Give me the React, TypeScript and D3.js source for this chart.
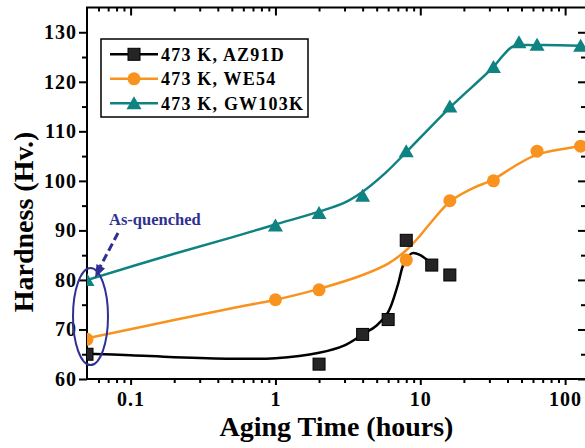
import React, { useEffect, useRef } from 'react'
import * as d3 from 'd3'

// measured hardness (Hv.) vs aging time (hours) at 473 K
const azTime = [0.05, 2, 4, 6, 8, 12, 16]
const azHard = [65, 63, 69, 72, 88, 83, 81]
const weTime = [0.05, 1, 2, 8, 16, 32, 64, 128]
const weHard = [68, 76, 78, 84, 96, 100, 106, 107]
const gwTime = [0.05, 1, 2, 4, 8, 16, 32, 48, 64, 128]
const gwHard = [80, 91, 93.5, 97, 106, 115, 123, 128, 127.5, 127.3]

// fitted curves
const azFitTime = [0.05, 0.1, 0.2, 0.5, 1, 2, 3, 4, 5, 6, 7, 7.7, 8.8, 10, 12]
const azFitHard = [65.1, 64.8, 64.4, 64.1, 64.2, 65.3, 66.8, 69, 70.8, 73.5, 79, 83.3, 85.4, 85, 83.2]
const weFitTime = [0.05, 0.2, 0.5, 1, 2, 4, 6, 8, 10, 12, 16, 22.6, 32, 45, 64, 128]
const weFitHard = [68.2, 71.9, 74.3, 76, 78.2, 81, 83.3, 86, 89, 91.8, 95.8, 98.4, 100.3, 103, 105.3, 107]
const gwFitTime = [0.05, 0.2, 0.5, 1, 2, 3, 4, 5.7, 8, 16, 32, 38, 44, 64, 128]
const gwFitHard = [80, 85.3, 88.6, 91.2, 93.8, 95.6, 97.8, 101.5, 105.8, 114.8, 123, 125.6, 127.2, 127.4, 127.3]

const seriesNames = ['473 K, AZ91D', '473 K, WE54', '473 K, GW103K']
const xMajor = [0.1, 1, 10, 100]
const xTickLabels = ['0.1', '1', '10', '100']
const yMajor = [60, 70, 80, 90, 100, 110, 120, 130]

const BLACK = '#000000'
const ORANGE = '#f7931e'
const TEAL = '#0f8282'
const NAVY = '#2e3192'
const FONT = '"Liberation Serif", "Times New Roman", serif'

const App = () => {
  const ref = useRef<SVGSVGElement>(null)

  useEffect(() => {
    const width = 585
    const height = 448
    const left = 87
    const right = 586
    const top = 7.5
    const bottom = 379

    const svg = d3.select(ref.current)
    svg.selectAll('*').remove()

    const x = d3.scaleLog().domain([0.05, 135]).range([left, right - 2])
    const y = d3.scaleLinear().domain([60, 135]).range([bottom, top])

    svg
      .append('defs')
      .append('clipPath')
      .attr('id', 'plot-clip')
      .append('rect')
      .attr('x', left)
      .attr('y', top)
      .attr('width', right - left)
      .attr('height', bottom - top)

    // minor ticks
    const xMinor: number[] = []
    ;[0.01, 0.1, 1, 10, 100].forEach((d) => {
      for (let k = 2; k <= 9; k++) {
        const v = d * k
        if (v > 0.05 && v < 135 && !xMajor.includes(v)) xMinor.push(v)
      }
    })
    const yMinor = d3.range(65, 135, 10)

    const styleAxis = (g) => {
      g.select('.domain').remove()
      g.selectAll('line').attr('stroke', '#000').attr('stroke-width', 2)
    }
    const styleLabels = (g) =>
      g
        .selectAll('text')
        .attr('font-family', FONT)
        .attr('font-size', 20)
        .attr('font-weight', 'bold')
        .attr('letter-spacing', 1)
        .attr('fill', '#000')

    // bottom axis
    svg
      .append('g')
      .attr('transform', `translate(0,${bottom})`)
      .call(d3.axisBottom(x).tickValues(xMinor).tickSize(4).tickFormat(() => ''))
      .call(styleAxis)
    svg
      .append('g')
      .attr('transform', `translate(0,${bottom})`)
      .call(
        d3
          .axisBottom(x)
          .tickValues(xMajor)
          .tickSize(6)
          .tickPadding(7)
          .tickFormat((d, i) => xTickLabels[i])
      )
      .call(styleAxis)
      .call(styleLabels)

    // top axis (inward)
    svg
      .append('g')
      .attr('transform', `translate(0,${top})`)
      .call(d3.axisBottom(x).tickValues(xMinor).tickSize(4).tickFormat(() => ''))
      .call(styleAxis)
    svg
      .append('g')
      .attr('transform', `translate(0,${top})`)
      .call(d3.axisBottom(x).tickValues(xMajor).tickSize(8).tickFormat(() => ''))
      .call(styleAxis)

    // left axis
    svg
      .append('g')
      .attr('transform', `translate(${left},0)`)
      .call(d3.axisLeft(y).tickValues(yMinor).tickSize(5).tickFormat(() => ''))
      .call(styleAxis)
    svg
      .append('g')
      .attr('transform', `translate(${left},0)`)
      .call(d3.axisLeft(y).tickValues(yMajor).tickSize(8).tickPadding(2))
      .call(styleAxis)
      .call(styleLabels)

    // right axis (inward)
    svg
      .append('g')
      .attr('transform', `translate(${right},0)`)
      .call(d3.axisLeft(y).tickValues(yMinor).tickSize(5).tickFormat(() => ''))
      .call(styleAxis)
    svg
      .append('g')
      .attr('transform', `translate(${right},0)`)
      .call(d3.axisLeft(y).tickValues(yMajor).tickSize(8).tickFormat(() => ''))
      .call(styleAxis)

    // frame
    svg
      .append('rect')
      .attr('x', left)
      .attr('y', top)
      .attr('width', right - left)
      .attr('height', bottom - top)
      .attr('fill', 'none')
      .attr('stroke', '#000')
      .attr('stroke-width', 2)

    const plot = svg.append('g').attr('clip-path', 'url(#plot-clip)')

    const line = d3
      .line<[number, number]>()
      .x((d) => x(d[0]))
      .y((d) => y(d[1]))
      .curve(d3.curveCatmullRom.alpha(0.5))

    const fits = [
      { t: azFitTime, h: azFitHard, color: BLACK },
      { t: weFitTime, h: weFitHard, color: ORANGE },
      { t: gwFitTime, h: gwFitHard, color: TEAL },
    ]
    fits.forEach((f) => {
      plot
        .append('path')
        .attr('d', line(f.t.map((t, i) => [t, f.h[i]])))
        .attr('fill', 'none')
        .attr('stroke', f.color)
        .attr('stroke-width', 2.5)
    })

    const square = (g, cx, cy) =>
      g
        .append('rect')
        .attr('x', cx - 6)
        .attr('y', cy - 6)
        .attr('width', 12)
        .attr('height', 12)
        .attr('fill', '#262424')
        .attr('stroke', '#000')
        .attr('stroke-width', 1)
    const circle = (g, cx, cy) =>
      g.append('circle').attr('cx', cx).attr('cy', cy).attr('r', 6.5).attr('fill', ORANGE)
    const triangle = (g, cx, cy) =>
      g
        .append('path')
        .attr('d', `M${cx},${cy - 7}L${cx + 7.5},${cy + 6}L${cx - 7.5},${cy + 6}Z`)
        .attr('fill', TEAL)

    azTime.forEach((t, i) => square(plot, x(t), y(azHard[i])))
    weTime.forEach((t, i) => circle(plot, x(t), y(weHard[i])))
    gwTime.forEach((t, i) => triangle(plot, x(t), y(gwHard[i])))

    // legend
    const legend = svg.append('g')
    legend
      .append('rect')
      .attr('x', 101)
      .attr('y', 39)
      .attr('width', 207)
      .attr('height', 78)
      .attr('fill', '#fff')
      .attr('stroke', '#000')
      .attr('stroke-width', 1.5)
    const markers = [square, circle, triangle]
    const colors = [BLACK, ORANGE, TEAL]
    seriesNames.forEach((name, i) => {
      const cy = 54.3 + i * 24.5
      legend
        .append('line')
        .attr('x1', 110)
        .attr('x2', 158)
        .attr('y1', cy)
        .attr('y2', cy)
        .attr('stroke', colors[i])
        .attr('stroke-width', 2.5)
      markers[i](legend, 134, cy)
      legend
        .append('text')
        .attr('x', 161)
        .attr('y', cy)
        .attr('dy', '0.36em')
        .attr('font-family', FONT)
        .attr('font-size', 18)
        .attr('font-weight', 'bold')
        .attr('letter-spacing', 1.2)
        .text(name)
    })

    // as-quenched annotation
    svg
      .append('ellipse')
      .attr('cx', x(0.05) + 3.5)
      .attr('cy', 316.5)
      .attr('rx', 17.5)
      .attr('ry', 48.5)
      .attr('fill', 'none')
      .attr('stroke', NAVY)
      .attr('stroke-width', 2)
    svg
      .append('line')
      .attr('x1', 118)
      .attr('y1', 233)
      .attr('x2', 100)
      .attr('y2', 267)
      .attr('stroke', NAVY)
      .attr('stroke-width', 3)
      .attr('stroke-dasharray', '8,4')
    svg
      .append('path')
      .attr('d', 'M95,278L96.5,264L105,268.5Z')
      .attr('fill', NAVY)
    svg
      .append('text')
      .attr('x', 109)
      .attr('y', 225)
      .attr('font-family', FONT)
      .attr('font-size', 16.5)
      .attr('font-weight', 'bold')
      .attr('fill', NAVY)
      .text('As-quenched')

    // axis titles
    svg
      .append('text')
      .attr('x', (left + right) / 2)
      .attr('y', 436)
      .attr('text-anchor', 'middle')
      .attr('font-family', FONT)
      .attr('font-size', 28)
      .attr('font-weight', 'bold')
      .text('Aging Time (hours)')
    svg
      .append('text')
      .attr('transform', 'translate(33,222) rotate(-90)')
      .attr('text-anchor', 'middle')
      .attr('font-family', FONT)
      .attr('font-size', 28)
      .attr('font-weight', 'bold')
      .text('Hardness (Hv.)')

    svg.attr('width', width).attr('height', height)
  }, [])

  return (
    <svg
      ref={ref}
      width={585}
      height={448}
      style={{ position: 'absolute', left: 0, top: 0, background: '#fff' }}
    />
  )
}

export default App
